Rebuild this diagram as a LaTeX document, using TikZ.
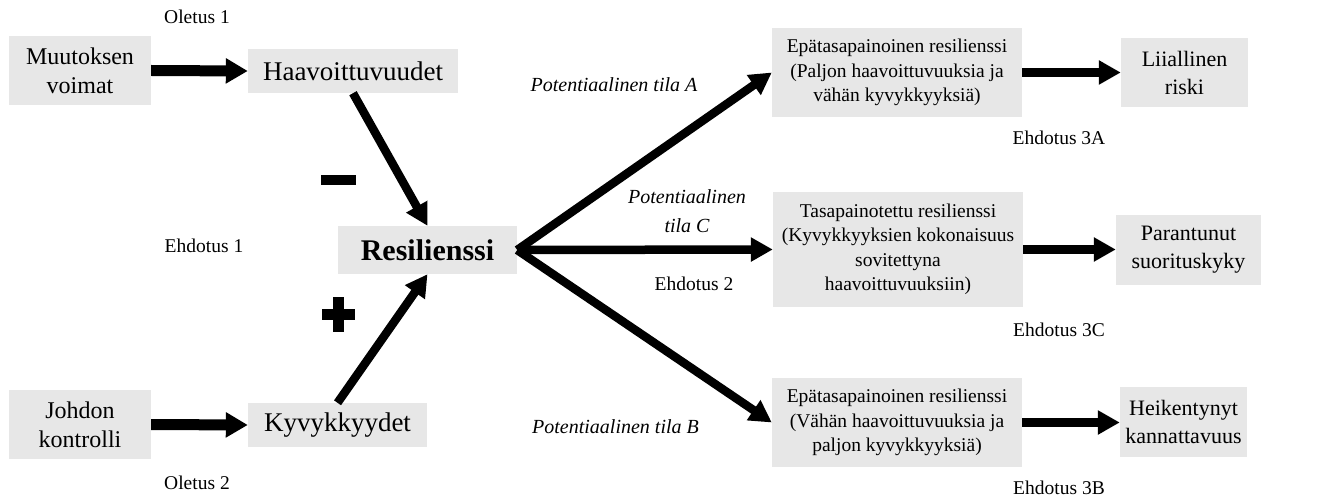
\documentclass[tikz,border=0pt]{standalone}
\usepackage{fontspec}
\setmainfont{Liberation Serif}
\usetikzlibrary{arrows.meta}
\definecolor{boxgray}{HTML}{E7E7E7}
\begin{document}
\begin{tikzpicture}[x=1pt,y=-1pt,
  box/.style={fill=boxgray, inner sep=0pt, align=center},
  leftbox/.style={box, minimum width=142pt, minimum height=69pt, font=\fontsize{24}{29}\selectfont},
  midbox/.style={box, minimum height=44pt, font=\fontsize{27}{32}\selectfont},
  statebox/.style={box, minimum width=250pt, font=\fontsize{19.5}{24.5}\selectfont},
  endbox/.style={box, minimum height=70pt, font=\fontsize{22}{28}\selectfont},
  lab/.style={inner sep=0pt, font=\fontsize{19.5}{24}\selectfont},
  itlab/.style={inner sep=0pt, align=center, font=\fontsize{20}{29}\selectfont\itshape},
  thickarrow/.style={line width=11pt, -{Triangle[length=22pt,width=24pt]}},
  thinarrow/.style={line width=8.5pt, -{Triangle[length=22pt,width=23pt]}},
  sign/.style={fill=black, draw=none}
]
\useasboundingbox (0,0) rectangle (1325,497);

% left boxes
\node[leftbox] (mv) at (80,70.5) {Muutoksen\\voimat};
\node[leftbox] (jk) at (80,424.5) {Johdon\\kontrolli};
\node[midbox, minimum width=210pt] (hv) at (353,71) {Haavoittuvuudet};
\node[midbox, minimum width=179pt] (ky) at (337.5,425) {Kyvykkyydet};
\node[box, minimum width=179pt, minimum height=48pt, font=\fontsize{30}{36}\selectfont\bfseries] (res) at (427.5,250) {Resilienssi};

% state boxes
\node[statebox, minimum height=89pt] (sa) at (897,72.5) {Epätasapainoinen resilienssi\\(Paljon haavoittuvuuksia ja\\vähän kyvykkyyksiä)};
\node[statebox, minimum height=115pt] (sc) at (898,249.5) {Tasapainotettu resilienssi\\(Kyvykkyyksien kokonaisuus\\sovitettyna\\haavoittuvuuksiin)};
\node[statebox, minimum height=89pt] (sb) at (897,422.5) {Epätasapainoinen resilienssi\\(Vähän haavoittuvuuksia ja\\paljon kyvykkyyksiä)};

% end boxes
\node[endbox, minimum width=127pt, minimum height=69pt] (lr) at (1184.5,72.5) {Liiallinen\\riski};
\node[endbox, minimum width=145pt] (ps) at (1188.5,250) {Parantunut\\suorituskyky};
\node[endbox, minimum width=127pt] (hk) at (1183.5,422) {Heikentynyt\\kannattavuus};

% labels
\node[lab] (o1) at (197,17) {Oletus 1};
\node[lab] (o2) at (197,483) {Oletus 2};
\node[lab] (e1) at (204,246) {Ehdotus 1};
\node[lab] (e2) at (694,284) {Ehdotus 2};
\node[lab] (e3a) at (1059,138) {Ehdotus 3A};
\node[lab] (e3c) at (1059,330) {Ehdotus 3C};
\node[lab] (e3b) at (1059,488) {Ehdotus 3B};
\node[itlab] (pa) at (614,85) {Potentiaalinen tila A};
\node[itlab] (pc) at (687,211) {Potentiaalinen\\tila C};
\node[itlab] (pb) at (615.5,427) {Potentiaalinen tila B};

% signs
\fill[sign] (321,175) rectangle (356,185);
\fill[sign] (322,309) rectangle (355,320);
\fill[sign] (333,297) rectangle (344,332);

% arrows
\draw[thickarrow] (mv.east) -- (hv.west);
\draw[thickarrow] (jk.east) -- (ky.west);
\draw[thinarrow] (hv.south) -- (res.north);
\draw[thinarrow] (ky.north) -- (res.south);
\draw[thinarrow] (res.east) -- (sa.west);
\draw[thinarrow] (res.east) -- (sc.west);
\draw[thinarrow] (res.east) -- (sb.west);
\draw[thinarrow] (sa.east) -- (sa.east -| lr.west);
\draw[thinarrow] (sc.east) -- (sc.east -| ps.west);
\draw[thinarrow] (sb.east) -- (sb.east -| hk.west);
\end{tikzpicture}
\end{document}
